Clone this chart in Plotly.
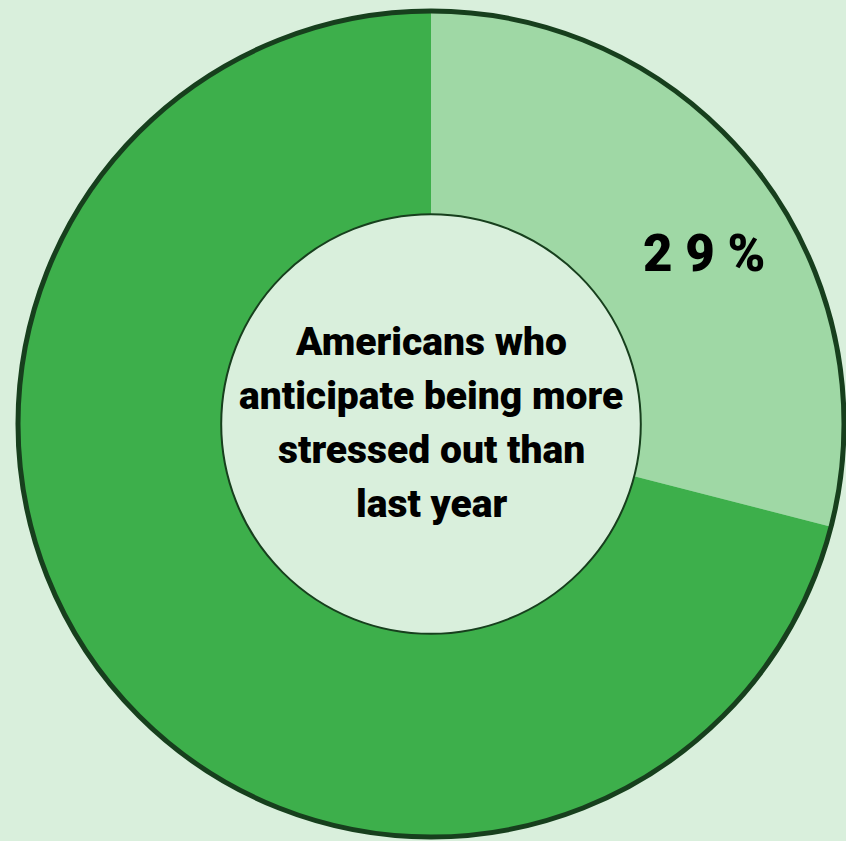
import math
import plotly.graph_objects as go

labels = ["More stressed", "Other"]
values = [29, 71]
slice_colors = ["#9fd8a5", "#3daf4b"]
center_lines = ["Americans who", "anticipate being more", "stressed out than", "last year"]

W, H = 846, 841
BG = "#d9efdc"
OUTLINE = "#173f1d"
cx, cy, R = 431, 424, 413
HOLE = 0.508
FONT = "Roboto"

fig = go.Figure(go.Pie(
    labels=labels, values=values, hole=HOLE, sort=False, direction="clockwise",
    rotation=0, marker=dict(colors=slice_colors, line=dict(width=0)),
    textinfo="none", hoverinfo="label+percent", showlegend=False,
    domain=dict(x=[(cx - R) / W, (cx + R) / W], y=[1 - (cy + R) / H, 1 - (cy - R) / H]),
))

def px(x, y):
    return x / W, 1 - y / H

# outer outline
x0, y1 = px(cx - R, cy - R); x1, y0 = px(cx + R, cy + R)
fig.add_shape(type="circle", xref="paper", yref="paper", x0=x0, y0=y0, x1=x1, y1=y1,
              line=dict(color=OUTLINE, width=5), fillcolor="rgba(0,0,0,0)", layer="above")
r_in = R * HOLE
x0, y1 = px(cx - r_in, cy - r_in); x1, y0 = px(cx + r_in, cy + r_in)
fig.add_shape(type="circle", xref="paper", yref="paper", x0=x0, y0=y0, x1=x1, y1=y1,
              line=dict(color=OUTLINE, width=2), fillcolor="rgba(0,0,0,0)", layer="above")

# percentage label on first slice
ang = 0.556 * (values[0] / sum(values)) * 2 * math.pi  # from top, clockwise
rl = 0.78 * R
lx, ly = px(cx + rl * math.sin(ang), cy - rl * math.cos(ang))
pct = round(100 * values[0] / sum(values))
fig.add_annotation(x=lx, y=ly, xref="paper", yref="paper", showarrow=False,
                   xanchor="center", yanchor="middle",
                   text=" ".join(f"{pct}%"),
                   font=dict(family=FONT, size=51, color="black", weight=900))

line_gap = 54
start = cy - line_gap * (len(center_lines) - 1) / 2 - 1
for i, t in enumerate(center_lines):
    ax, ay = px(cx, start + i * line_gap)
    fig.add_annotation(x=ax, y=ay, xref="paper", yref="paper", showarrow=False, text=t,
                       xanchor="center", yanchor="middle",
                       font=dict(family=FONT, size=39, color="black", weight=900))

fig.update_layout(width=W, height=H, margin=dict(l=0, r=0, t=0, b=0),
                  paper_bgcolor=BG, plot_bgcolor=BG)
fig.write_html("out.html", config={"displayModeBar": False},
               post_script="document.body.style.margin='0';document.body.style.background='" + BG + "';")
